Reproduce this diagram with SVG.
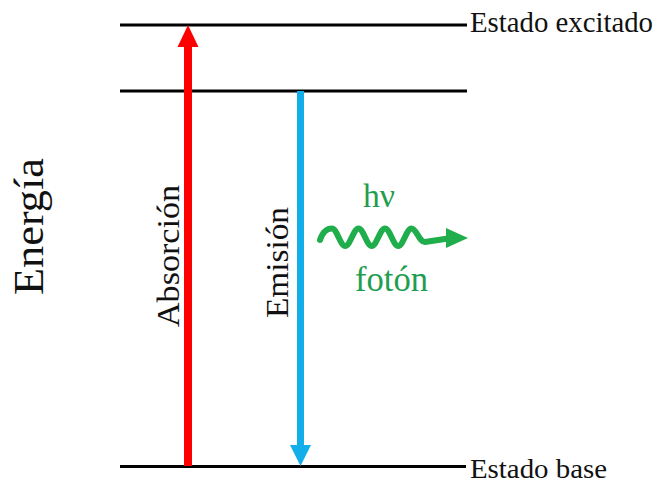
<svg xmlns="http://www.w3.org/2000/svg" width="657" height="485" viewBox="0 0 657 485">
<style>
.t{font-family:"Liberation Serif","Times New Roman",serif;fill:#111}
.g{font-family:"Liberation Serif","Times New Roman",serif;fill:#1f9e4f}
.lvl{stroke:#000;stroke-width:3;fill:none}
</style>
<rect width="657" height="485" fill="#fff"/>
<g id="levels">
<line class="lvl" x1="120" y1="25" x2="467" y2="25"/>
<line class="lvl" x1="120" y1="91" x2="467" y2="91"/>
<line class="lvl" x1="120" y1="466.5" x2="466" y2="466.5"/>
</g>
<g id="label-excitado"><text class="t" x="470" y="32" font-size="29" textLength="183" lengthAdjust="spacingAndGlyphs">Estado excitado</text></g>
<g id="label-base"><text class="t" x="470" y="478" font-size="28" textLength="137" lengthAdjust="spacingAndGlyphs">Estado base</text></g>
<g id="label-energia"><text class="t" transform="translate(43,295) rotate(-90)" font-size="43" textLength="137" lengthAdjust="spacingAndGlyphs">Energía</text></g>
<g id="connectors">
<g id="absorcion">
<rect x="184" y="45" width="8" height="421" fill="#ff0000"/>
<polygon points="177.5,47 188,25 198.5,47" fill="#ff0000"/>
</g>
<g id="emision">
<rect x="297" y="91" width="7" height="356" fill="#12aeea"/>
<polygon points="290,445 300.5,466 311,445" fill="#12aeea"/>
</g>
<g id="photon">
<path d="M320,240 C323,231 327,228.5 332,228.5 C336.8,228.5 340.4,246 345.25,246 C350,246 353.7,228.5 358.5,228.5 C363.3,228.5 366.9,246 371.75,246 C376.5,246 380.2,228.5 385,228.5 C389.8,228.5 393.4,246 398.25,246 C403,246 406.7,228.5 411.5,228.5 C416.5,228.5 419,242 425,242 L448,238.5" fill="none" stroke="#1fae4b" stroke-width="6" stroke-linecap="round" stroke-linejoin="round"/>
<polygon points="446,228 468,238 446,248" fill="#1fae4b"/>
</g>
</g>
<g id="label-absorcion"><text class="t" transform="translate(179,327) rotate(-90)" font-size="32" textLength="142" lengthAdjust="spacingAndGlyphs">Absorción</text></g>
<g id="label-emision"><text class="t" transform="translate(288,318) rotate(-90)" font-size="32" textLength="111" lengthAdjust="spacingAndGlyphs">Emisión</text></g>
<g id="label-hv"><text class="g" x="363" y="207" font-size="33" textLength="32" lengthAdjust="spacingAndGlyphs">hν</text></g>
<g id="label-foton"><text class="g" x="355" y="291" font-size="36" textLength="73" lengthAdjust="spacingAndGlyphs">fotón</text></g>
</svg>
